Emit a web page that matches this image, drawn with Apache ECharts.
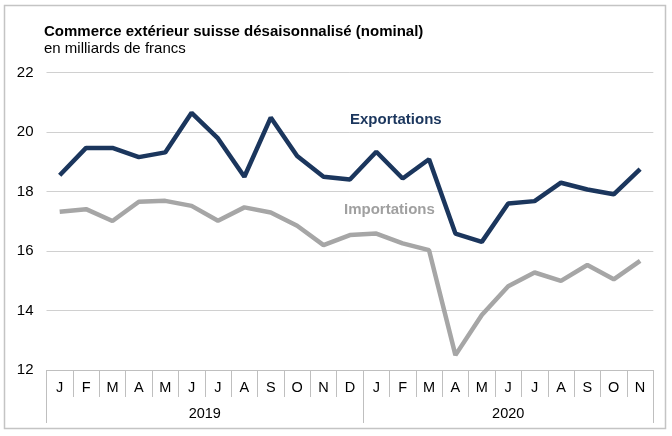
<!DOCTYPE html>
<html><head><meta charset="utf-8">
<script src="https://cdn.jsdelivr.net/npm/echarts@6/dist/echarts.min.js"></script>
<style>html,body{margin:0;padding:0;background:#fff}#c{width:672px;height:436px}</style>
</head><body><div id="c"></div>
<script>
const months = ['J','F','M','A','M','J','J','A','S','O','N','D','J','F','M','A','M','J','J','A','S','O','N'];
const years = ['2019','2020'];
const yearTickPositions = [0, 12, 23];
const yearLabelPositions = [6, 17.5];
const exportations = [18.55,19.47,19.47,19.16,19.32,20.65,19.79,18.50,20.49,19.20,18.50,18.41,19.34,18.44,19.09,16.59,16.31,17.60,17.68,18.30,18.07,17.91,18.76];
const importations = [17.32,17.41,17.01,17.66,17.69,17.52,17.02,17.47,17.30,16.85,16.20,16.54,16.59,16.26,16.03,12.50,13.85,14.82,15.28,15.00,15.53,15.05,15.67];
const yTicks = [12,14,16,18,20,22];

const FONT = '"Liberation Sans", Arial, sans-serif';
const chart = echarts.init(document.getElementById('c'), null, {renderer:'canvas'});
chart.setOption({
  animation:false,
  textStyle:{fontFamily:FONT},
  graphic:[
    {type:'rect',shape:{x:4.5,y:5.5,width:661,height:423},style:{fill:'none',stroke:'#c4c4c4',lineWidth:1.5},silent:true,z:-1},
    {type:'text',x:44,y:31.5,style:{text:'Commerce extérieur suisse désaisonnalisé (nominal)',fill:'#000',font:'bold 15px '+FONT,verticalAlign:'middle'}},
    {type:'text',x:44,y:49,style:{text:'en milliards de francs',fill:'#000',font:'15px '+FONT,verticalAlign:'middle'}},
    {type:'text',x:350,y:120,style:{text:'Exportations',fill:'#1b365d',font:'bold 15px '+FONT,verticalAlign:'middle'}},
    {type:'text',x:344,y:210,style:{text:'Importations',fill:'#a0a0a0',font:'bold 15px '+FONT,verticalAlign:'middle'}}
  ],
  grid:{left:46.5,right:18.7,top:72.7,bottom:66,containLabel:false},
  xAxis:[
    {type:'category',data:months,boundaryGap:true,position:'bottom',
     axisLine:{show:true,lineStyle:{color:'#bfbfbf',width:1}},
     axisTick:{show:true,interval:0,length:27,lineStyle:{color:'#bfbfbf',width:1}},
     axisLabel:{interval:0,margin:10,fontSize:14.5,color:'#000',fontFamily:FONT},
     splitLine:{show:false}},
    {type:'value',min:0,max:23,position:'bottom',
     axisLine:{show:false},
     axisTick:{show:true,customValues:yearTickPositions,length:53,lineStyle:{color:'#bfbfbf',width:1}},
     axisLabel:{show:true,customValues:yearLabelPositions,margin:36.5,fontSize:14.5,color:'#000',fontFamily:FONT,
       formatter:function(v){return v<12?years[0]:years[1];}},
     splitLine:{show:false}}
  ],
  yAxis:{type:'value',min:yTicks[0],max:yTicks[yTicks.length-1],interval:2,
    axisLine:{show:false},axisTick:{show:false},
    axisLabel:{margin:13,fontSize:15,color:'#000',fontFamily:FONT},
    splitLine:{show:true,lineStyle:{color:'#d0d0d0',width:1}}},
  series:[
    {name:'Importations',type:'line',data:importations,xAxisIndex:0,symbol:'none',
     lineStyle:{color:'#a6a6a6',width:4.5},itemStyle:{color:'#a6a6a6'},z:2},
    {name:'Exportations',type:'line',data:exportations,xAxisIndex:0,symbol:'none',
     lineStyle:{color:'#1b365d',width:4.5},itemStyle:{color:'#1b365d'},z:3}
  ]
});
</script></body></html>
